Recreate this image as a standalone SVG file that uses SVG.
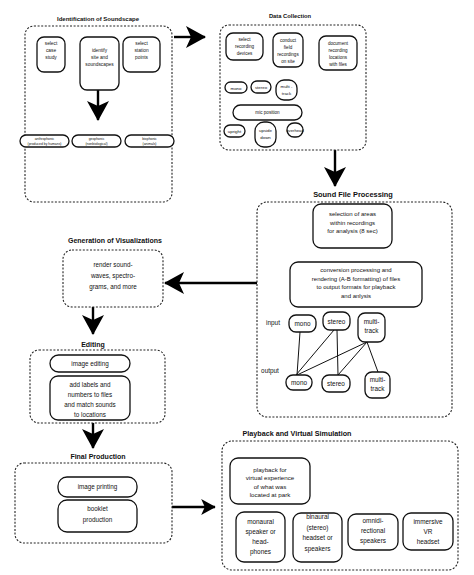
<svg xmlns="http://www.w3.org/2000/svg" width="474" height="575" viewBox="0 0 474 575">
<style>
.bg{fill:#fff}
.grp{fill:none;stroke:#222;stroke-width:1.1;stroke-dasharray:2 1.6}
.box{fill:#fff;stroke:#111;stroke-width:1.3}
.t{font-family:"Liberation Sans",Arial,sans-serif;fill:#111;text-anchor:middle}
.h{font-weight:bold}
.ln{stroke:#111;stroke-width:1;fill:none}
.ar{stroke:#000;stroke-width:2.4;fill:none}
</style>
<defs>
<marker id="ah" viewBox="0 0 20 22" refX="19" refY="11" markerWidth="20" markerHeight="22" markerUnits="userSpaceOnUse" orient="auto">
<path d="M0,0 L20,11 L0,22 L5,11 z" fill="#000"/>
</marker>
<marker id="ahs" viewBox="0 0 20 22" refX="19" refY="11" markerWidth="15" markerHeight="16" markerUnits="userSpaceOnUse" orient="auto">
<path d="M0,0 L20,11 L0,22 L5,11 z" fill="#000"/>
</marker>
</defs>
<rect class="bg" width="474" height="575"/>

<g id="connectors">
<line class="ar" x1="98" y1="90" x2="98" y2="120" marker-end="url(#ah)"/>
<line class="ar" x1="174" y1="37" x2="205" y2="37" marker-end="url(#ah)"/>
<line class="ar" x1="335" y1="150" x2="335" y2="186" marker-end="url(#ah)"/>
<line class="ar" x1="257" y1="283" x2="165" y2="283" marker-end="url(#ah)"/>
<line class="ar" x1="93" y1="307" x2="93" y2="334" marker-end="url(#ah)"/>
<line class="ar" x1="93" y1="423" x2="93" y2="448" marker-end="url(#ah)"/>
<line class="ar" x1="172" y1="507" x2="215" y2="507" marker-end="url(#ahs)"/>
<line class="ln" x1="300" y1="332" x2="297" y2="375"/>
<line class="ln" x1="334" y1="330" x2="296" y2="375"/>
<line class="ln" x1="337" y1="330" x2="338" y2="375"/>
<line class="ln" x1="367" y1="342" x2="297" y2="375"/>
<line class="ln" x1="367" y1="342" x2="338" y2="375"/>
<line class="ln" x1="367" y1="342" x2="378" y2="372"/>
</g>

<g id="identification">
<text class="t h" x="98" y="21" font-size="6">Identification of Soundscape</text>
<rect class="grp" x="25" y="26" width="147" height="176" rx="9"/>
<rect class="box" x="37" y="37" width="28" height="35" rx="7"/>
<text class="t" font-size="4.8"><tspan x="51" y="45">select</tspan><tspan x="51" y="52">case</tspan><tspan x="51" y="59">study</tspan></text>
<rect class="box" x="80" y="37" width="39" height="53" rx="7"/>
<text class="t" font-size="4.8"><tspan x="99.5" y="52">identify</tspan><tspan x="99.5" y="59">site and</tspan><tspan x="99.5" y="66">soundscapes</tspan></text>
<rect class="box" x="123" y="37" width="37" height="35" rx="7"/>
<text class="t" font-size="4.8"><tspan x="141.5" y="45">select</tspan><tspan x="141.5" y="52">station</tspan><tspan x="141.5" y="59">points</tspan></text>
<rect class="box" x="20" y="135" width="49" height="12" rx="6"/>
<text class="t" font-size="3.4"><tspan x="44.5" y="140">anthrophonic</tspan><tspan x="44.5" y="145">(produced by humans)</tspan></text>
<rect class="box" x="72" y="135" width="49" height="12" rx="6"/>
<text class="t" font-size="3.4"><tspan x="96.5" y="140">geophonic</tspan><tspan x="96.5" y="145">(nonbiological)</tspan></text>
<rect class="box" x="125" y="135" width="49" height="12" rx="6"/>
<text class="t" font-size="3.4"><tspan x="149.5" y="140">biophonic</tspan><tspan x="149.5" y="145">(animals)</tspan></text>
</g>

<g id="data-collection">
<text class="t h" x="290" y="18" font-size="5.8">Data Collection</text>
<rect class="grp" x="220" y="25" width="146" height="125" rx="9"/>
<rect class="box" x="226" y="33" width="37" height="27" rx="7"/>
<text class="t" font-size="4.6"><tspan x="244.5" y="41">select</tspan><tspan x="244.5" y="48">recording</tspan><tspan x="244.5" y="55">devices</tspan></text>
<rect class="box" x="273" y="33" width="30" height="34" rx="7"/>
<text class="t" font-size="4.6"><tspan x="288" y="42">conduct</tspan><tspan x="288" y="49">field</tspan><tspan x="288" y="56">recordings</tspan><tspan x="288" y="63">on site</tspan></text>
<rect class="box" x="319" y="36" width="38" height="34" rx="7"/>
<text class="t" font-size="4.6"><tspan x="338" y="45">document</tspan><tspan x="338" y="52">recording</tspan><tspan x="338" y="59">locations</tspan><tspan x="338" y="66">with files</tspan></text>
<rect class="box" x="225" y="82" width="22" height="11" rx="5.5"/>
<text class="t" x="236" y="89.5" font-size="4.4">mono</text>
<rect class="box" x="251" y="81" width="20" height="12" rx="6"/>
<text class="t" x="261" y="88.5" font-size="4.4">stereo</text>
<rect class="box" x="276" y="80" width="21" height="20" rx="8"/>
<text class="t" font-size="4.4"><tspan x="286.5" y="88">multi -</tspan><tspan x="286.5" y="95">track</tspan></text>
<rect class="box" x="233" y="105" width="69" height="15" rx="7.5"/>
<text class="t" x="267.5" y="114" font-size="4.6">mic position</text>
<rect class="box" x="224" y="125" width="21" height="12" rx="6"/>
<text class="t" x="234.5" y="132.5" font-size="4.4">upright</text>
<rect class="box" x="255" y="122" width="21" height="25" rx="9"/>
<text class="t" font-size="4.4"><tspan x="265.5" y="132">upside</tspan><tspan x="265.5" y="139">down</tspan></text>
<rect class="box" x="287" y="123" width="16" height="14" rx="7"/>
<text class="t" x="295" y="131.5" font-size="4.2">overhead</text>
</g>

<g id="sound-file-processing">
<text class="t h" x="353" y="197" font-size="7.4">Sound File Processing</text>
<rect class="grp" x="257" y="202" width="195" height="215" rx="10"/>
<rect class="box" x="313" y="204" width="79" height="44" rx="8"/>
<text class="t" font-size="6"><tspan x="352.5" y="216">selection of areas</tspan><tspan x="352.5" y="224.5">within recordings</tspan><tspan x="352.5" y="233">for analysis (8 sec)</tspan></text>
<rect class="box" x="290" y="262" width="132" height="45" rx="8"/>
<text class="t" font-size="6"><tspan x="356" y="272">conversion processing and</tspan><tspan x="356" y="280.7">rendering (A-B formatting) of files</tspan><tspan x="356" y="289.4">to output formats for playback</tspan><tspan x="356" y="298">and anlysis</tspan></text>
<text class="t" x="273" y="325" font-size="6.4">input</text>
<rect class="box" x="289" y="315" width="27" height="17" rx="7"/>
<text class="t" x="302.5" y="325.5" font-size="6.4">mono</text>
<rect class="box" x="323" y="312" width="27" height="18" rx="7"/>
<text class="t" x="336.5" y="323.5" font-size="6.4">stereo</text>
<rect class="box" x="358" y="313" width="27" height="29" rx="7"/>
<text class="t" font-size="6.4"><tspan x="371.5" y="324">multi-</tspan><tspan x="371.5" y="333">track</tspan></text>
<text class="t" x="270" y="373" font-size="6.4">output</text>
<rect class="box" x="286" y="375" width="26" height="15" rx="7"/>
<text class="t" x="299" y="384.5" font-size="6.4">mono</text>
<rect class="box" x="322" y="375" width="28" height="17" rx="7"/>
<text class="t" x="336" y="385.5" font-size="6.4">stereo</text>
<rect class="box" x="365" y="372" width="25" height="26" rx="7"/>
<text class="t" font-size="6.4"><tspan x="377.5" y="382">multi-</tspan><tspan x="377.5" y="391">track</tspan></text>
</g>

<g id="generation-of-visualizations">
<text class="t h" x="115" y="243" font-size="7">Generation of Visualizations</text>
<rect class="grp" x="63" y="250" width="100" height="57" rx="9"/>
<text class="t" font-size="6.3"><tspan x="113" y="267">render sound-</tspan><tspan x="113" y="278">waves, spectro-</tspan><tspan x="113" y="289">grams, and more</tspan></text>
</g>

<g id="editing">
<text class="t h" x="93" y="347" font-size="7">Editing</text>
<rect class="grp" x="30" y="350" width="135" height="73" rx="9"/>
<rect class="box" x="50" y="355" width="80" height="17" rx="8.5"/>
<text class="t" x="90" y="366" font-size="6.3">image editing</text>
<rect class="box" x="50" y="376" width="80" height="44" rx="8"/>
<text class="t" font-size="6.3"><tspan x="90" y="387">add labels and</tspan><tspan x="90" y="397">numbers to files</tspan><tspan x="90" y="407">and match sounds</tspan><tspan x="90" y="417">to locations</tspan></text>
</g>

<g id="final-production">
<text class="t h" x="98" y="459" font-size="7">Final Production</text>
<rect class="grp" x="15" y="463" width="157" height="80" rx="9"/>
<rect class="box" x="58" y="477" width="79" height="20" rx="9"/>
<text class="t" x="97.5" y="489" font-size="6.3">image printing</text>
<rect class="box" x="58" y="500" width="79" height="32" rx="9"/>
<text class="t" font-size="6.3"><tspan x="97.5" y="511">booklet</tspan><tspan x="97.5" y="522">production</tspan></text>
</g>

<g id="playback-and-virtual-simulation">
<text class="t h" x="297" y="436" font-size="7.2">Playback and Virtual Simulation</text>
<rect class="grp" x="222" y="441" width="236" height="129" rx="10"/>
<rect class="box" x="230" y="458" width="80" height="46" rx="8"/>
<text class="t" font-size="6.2"><tspan x="270" y="472">playback for</tspan><tspan x="270" y="480.3">virtual experience</tspan><tspan x="270" y="488.6">of what was</tspan><tspan x="270" y="497">located at park</tspan></text>
<rect class="box" x="236" y="512" width="49" height="50" rx="8"/>
<text class="t" font-size="6.4"><tspan x="260.5" y="524">monaural</tspan><tspan x="260.5" y="534">speaker or</tspan><tspan x="260.5" y="544">head-</tspan><tspan x="260.5" y="554">phones</tspan></text>
<rect class="box" x="293" y="513" width="49" height="49" rx="8"/>
<text class="t" font-size="6.4"><tspan x="317.5" y="519">binaural</tspan><tspan x="317.5" y="529.5">(stereo)</tspan><tspan x="317.5" y="540">headset or</tspan><tspan x="317.5" y="550.5">speakers</tspan></text>
<rect class="box" x="348" y="514" width="50" height="36" rx="8"/>
<text class="t" font-size="6.4"><tspan x="373" y="523">omnidi-</tspan><tspan x="373" y="533">rectional</tspan><tspan x="373" y="543">speakers</tspan></text>
<rect class="box" x="403" y="513" width="50" height="37" rx="8"/>
<text class="t" font-size="6.4"><tspan x="428" y="524">immersive</tspan><tspan x="428" y="534">VR</tspan><tspan x="428" y="544">headset</tspan></text>
</g>
</svg>
